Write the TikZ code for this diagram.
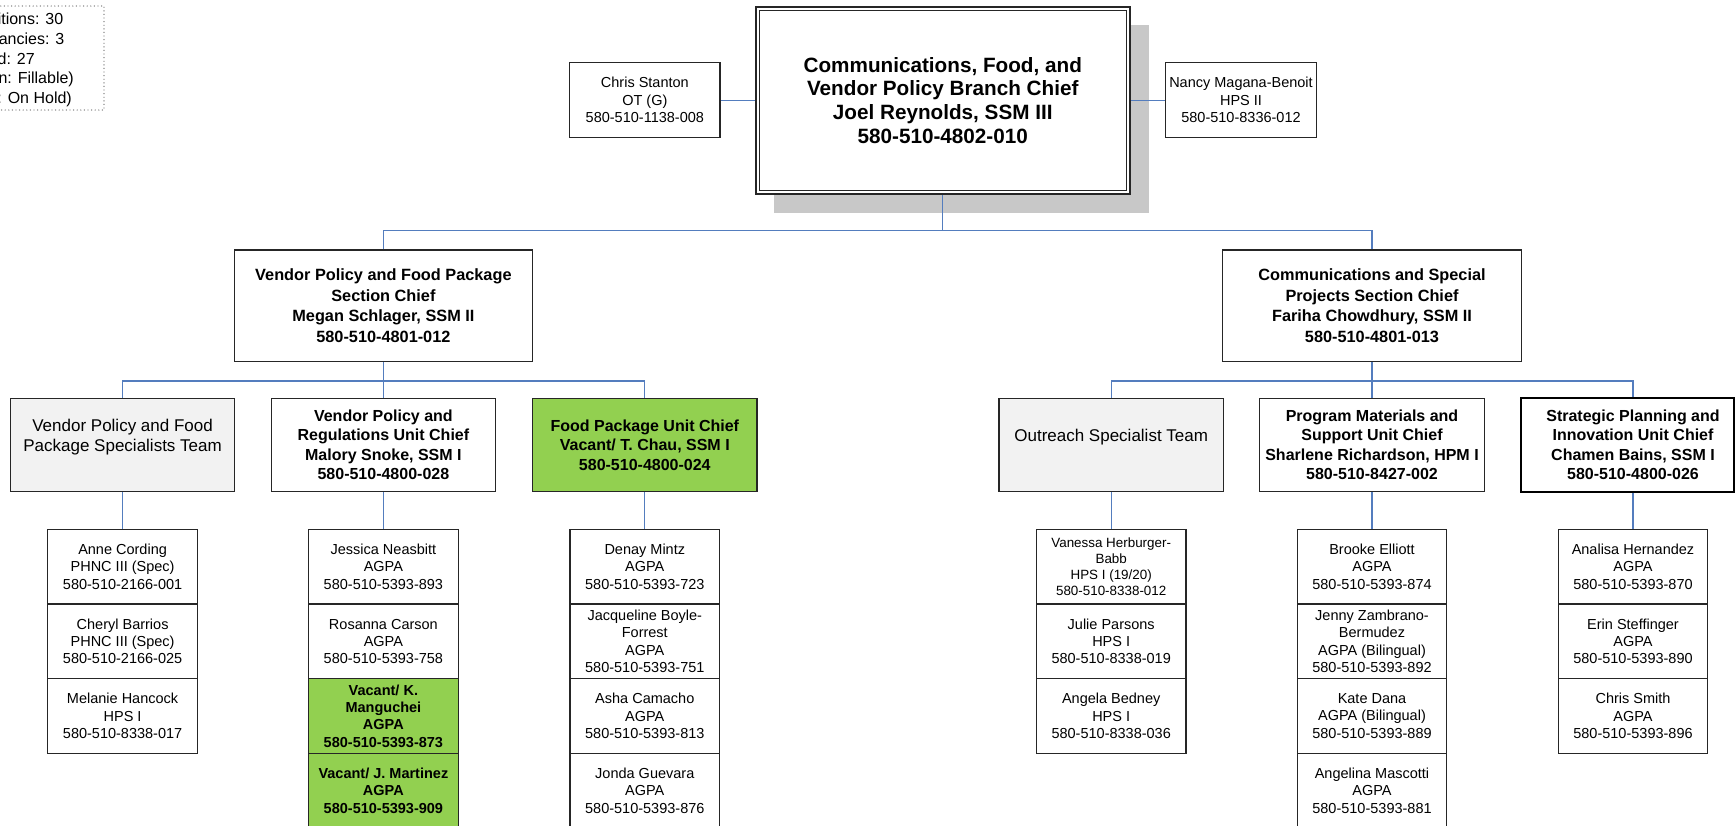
\documentclass[tikz,border=0pt]{standalone}
\usepackage{fontspec}
\setmainfont{Liberation Sans}
\usetikzlibrary{calc}

\definecolor{bordc}{RGB}{38,38,38}
\definecolor{connblue}{RGB}{84,125,190}
\definecolor{teamgray}{RGB}{242,242,242}
\definecolor{vacgreen}{RGB}{146,208,80}
\definecolor{shadowgray}{RGB}{200,200,200}
\definecolor{legdot}{RGB}{120,120,120}

\begin{document}
\begin{tikzpicture}[x=1pt,y=-1pt,
  box/.style={draw=bordc, line width=1.2pt, fill=white, inner sep=0pt, align=center},
  stf/.style={box, minimum width=149.5pt, minimum height=74.67pt, font=\fontsize{14.5}{17.3}\selectfont},
  stfsmall/.style={stf, font=\fontsize{13.4}{16}\selectfont},
  stfv/.style={stf, fill=vacgreen, font=\bfseries\fontsize{14.5}{17.3}\selectfont},
  asst/.style={box, minimum width=150.3pt, minimum height=75pt, font=\fontsize{14.5}{17.5}\selectfont},
  sec/.style={box, minimum width=298.4pt, minimum height=111.7pt, font=\bfseries\fontsize{16.3}{20.5}\selectfont},
  unit/.style={box, minimum width=224.5pt, minimum height=93.4pt, font=\bfseries\fontsize{16}{19.5}\selectfont},
  unitv/.style={unit, fill=vacgreen},
  team/.style={unit, fill=teamgray, font=\fontsize{17}{20}\selectfont},
  conn/.style={draw=connblue, line width=1.2pt},
  legtext/.style={anchor=base east, inner sep=0pt, font=\fontsize{16}{20}\selectfont}
]
\useasboundingbox (0,0) rectangle (1735,825);
\clip (0,0) rectangle (1735,825);

% ---------- legend (dotted frame, left part outside the sheet) ----------
\draw[legdot, line width=1.4pt, line cap=round, dash pattern=on 0pt off 3.6pt] (-60,6) rectangle (104,110);
\node[legtext] (lg1) at (63.5,24.5) {itions: 30};
\node[legtext] (lg2) at (64.5,44.3) {ancies: 3};
\node[legtext] (lg3) at (35,64.1) {d: 27};
\node[legtext] (lg4) at (74,83.9) {n: Fillable)};
\node[legtext] (lg5) at (72,103.7) {: On Hold)};

% ---------- branch chief with drop shadow ----------
\fill[shadowgray] (774,25) rectangle (1148.5,213);
\node[draw=bordc, line width=2pt, fill=white, minimum width=374.5pt, minimum height=187.5pt,
      inner sep=0pt, align=center, font=\bfseries\fontsize{20.7}{23.6}\selectfont]
  (main) at (942.75,100.25)
  {Communications, Food, and\\Vendor Policy Branch Chief\\Joel Reynolds, SSM III\\580-510-4802-010};
\draw[bordc, line width=1pt] ([shift={(4.5pt,-4.5pt)}]main.north west) rectangle ([shift={(-4.5pt,4.5pt)}]main.south east);

% ---------- assistants ----------
\node[asst] (chris) at (644.85,100.25) {Chris Stanton\\OT (G)\\580-510-1138-008};
\node[asst] (nancy) at (1241,100.25) {Nancy Magana-Benoit\\HPS II\\580-510-8336-012};

% ---------- sections ----------
\node[sec] (secL) at (383.4,305.85) {Vendor Policy and Food Package\\Section Chief\\Megan Schlager, SSM II\\580-510-4801-012};
\node[sec] (secR) at (1372,305.85) {Communications and Special\\Projects Section Chief\\Fariha Chowdhury, SSM II\\580-510-4801-013};

% ---------- units ----------
\node[team]  (teamL)    at (122.6,445) {Vendor Policy and Food\\Package Specialists Team\\ \mbox{}};
\node[unit]  (unitReg)  at (383.4,445) {Vendor Policy and\\Regulations Unit Chief\\Malory Snoke, SSM I\\580-510-4800-028};
\node[unitv] (unitFood) at (644.8,445) {Food Package Unit Chief\\Vacant/ T. Chau, SSM I\\580-510-4800-024};
\node[team]  (teamR)    at (1111.2,445) {Outreach Specialist Team\\ \mbox{}};
\node[unit]  (unitProg) at (1372,445) {Program Materials and\\Support Unit Chief\\Sharlene Richardson, HPM I\\580-510-8427-002};
\node[draw=black, line width=2pt, fill=white, minimum width=212.5pt, minimum height=93.4pt, inner sep=0pt]
  (strat) at (1627.25,445) {};
\node[inner sep=0pt, align=center, font=\bfseries\fontsize{16}{19.5}\selectfont]
  (stratT) at (1633,445) {Strategic Planning and\\Innovation Unit Chief\\Chamen Bains, SSM I\\580-510-4800-026};

% ---------- staff: Vendor Policy and Food Package Specialists ----------
\node[stf] (s11) at (122.6,566.6) {Anne Cording\\PHNC III (Spec)\\580-510-2166-001};
\node[stf] (s12) at (122.6,641.3) {Cheryl Barrios\\PHNC III (Spec)\\580-510-2166-025};
\node[stf] (s13) at (122.6,716.0) {Melanie Hancock\\HPS I\\580-510-8338-017};

% ---------- staff: Vendor Policy and Regulations ----------
\node[stf]  (s21) at (383.4,566.6) {Jessica Neasbitt\\AGPA\\580-510-5393-893};
\node[stf]  (s22) at (383.4,641.3) {Rosanna Carson\\AGPA\\580-510-5393-758};
\node[stfv] (s23) at (383.4,716.0) {Vacant/ K.\\Manguchei\\AGPA\\580-510-5393-873};
\node[stfv] (s24) at (383.4,790.6) {Vacant/ J. Martinez\\AGPA\\580-510-5393-909};

% ---------- staff: Food Package ----------
\node[stf] (s31) at (644.8,566.6) {Denay Mintz\\AGPA\\580-510-5393-723};
\node[stf] (s32) at (644.8,641.3) {Jacqueline Boyle-\\Forrest\\AGPA\\580-510-5393-751};
\node[stf] (s33) at (644.8,716.0) {Asha Camacho\\AGPA\\580-510-5393-813};
\node[stf] (s34) at (644.8,790.6) {Jonda Guevara\\AGPA\\580-510-5393-876};

% ---------- staff: Outreach ----------
\node[stfsmall] (s41) at (1111.2,566.6) {Vanessa Herburger-\\Babb\\HPS I (19/20)\\580-510-8338-012};
\node[stf] (s42) at (1111.2,641.3) {Julie Parsons\\HPS I\\580-510-8338-019};
\node[stf] (s43) at (1111.2,716.0) {Angela Bedney\\HPS I\\580-510-8338-036};

% ---------- staff: Program Materials and Support ----------
\node[stf] (s51) at (1372,566.6) {Brooke Elliott\\AGPA\\580-510-5393-874};
\node[stf] (s52) at (1372,641.3) {Jenny Zambrano-\\Bermudez\\AGPA (Bilingual)\\580-510-5393-892};
\node[stf] (s53) at (1372,716.0) {Kate Dana\\AGPA (Bilingual)\\580-510-5393-889};
\node[stf] (s54) at (1372,790.6) {Angelina Mascotti\\AGPA\\580-510-5393-881};

% ---------- staff: Strategic Planning and Innovation ----------
\node[stf] (s61) at (1633,566.6) {Analisa Hernandez\\AGPA\\580-510-5393-870};
\node[stf] (s62) at (1633,641.3) {Erin Steffinger\\AGPA\\580-510-5393-890};
\node[stf] (s63) at (1633,716.0) {Chris Smith\\AGPA\\580-510-5393-896};

% ---------- connectors ----------
\coordinate (j1) at (942.75,230.5);
\coordinate (j2) at (383.4,381);
\coordinate (j3) at (1372,381);

\draw[conn] (chris.east) -- (main.west);
\draw[conn] (main.east) -- (nancy.west);
\draw[conn] (main.south) -- (j1);
\draw[conn] (secL.north) |- (j1) -| (secR.north);

\draw[conn] (secL.south) -- (j2) -- (unitReg.north);
\draw[conn] (teamL.north) |- (j2) -| (unitFood.north);
\draw[conn] (secR.south) -- (j3) -- (unitProg.north);
\draw[conn] (teamR.north) |- (j3) -| (stratT.north |- strat.north);

\draw[conn] (teamL.south) -- (s11.north);
\draw[conn] (unitReg.south) -- (s21.north);
\draw[conn] (unitFood.south) -- (s31.north);
\draw[conn] (teamR.south) -- (s41.north);
\draw[conn] (unitProg.south) -- (s51.north);
\draw[conn] (stratT.south |- strat.south) -- (s61.north);
\end{tikzpicture}
\end{document}
